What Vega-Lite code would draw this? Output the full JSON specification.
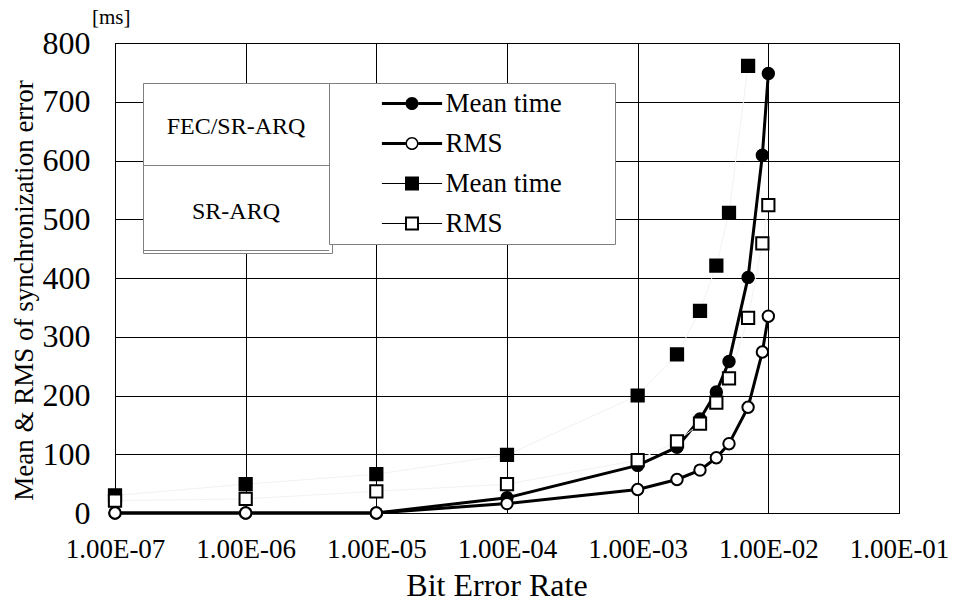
{
  "$schema": "https://vega.github.io/schema/vega-lite/v6.json",
  "width": 784,
  "height": 470,
  "autosize": {"type": "none"},
  "padding": {"left": 115, "top": 43, "right": 57, "bottom": 90},
  "background": "white",
  "config": {
    "view": {"stroke": "black", "strokeWidth": 1},
    "font": "Liberation Serif, Times New Roman, Tinos, DejaVu Serif, serif",
    "axis": {
      "gridColor": "black", "gridOpacity": 1, "gridWidth": 1,
      "domainColor": "black", "ticks": false, "tickSize": 0,
      "labelColor": "black", "titleColor": "black",
      "labelFont": "Liberation Serif, Times New Roman, Tinos, DejaVu Serif, serif",
      "titleFont": "Liberation Serif, Times New Roman, Tinos, DejaVu Serif, serif",
      "titleFontWeight": "normal", "labelFlush": false, "labelOverlap": false
    },
    "legend": {"labelFont": "Liberation Serif, Times New Roman, Tinos, DejaVu Serif, serif", "labelColor": "black"},
    "title": {"font": "Liberation Serif, Times New Roman, Tinos, DejaVu Serif, serif"}
  },
  "title": {
    "text": "[ms]", "anchor": "start", "frame": "group", "dx": -23, "dy": 22, "offset": 4,
    "fontSize": 21, "fontWeight": "normal",
    "baseline": "alphabetic", "color": "black"
  },
  "resolve": {"scale": {"shape": "independent"}},
  "data": {
    "values": [
      {"ber": 1e-7, "value": 0, "series": "FEC/SR-ARQ Mean time", "protocol": "FEC/SR-ARQ"},
      {"ber": 1e-6, "value": 0, "series": "FEC/SR-ARQ Mean time", "protocol": "FEC/SR-ARQ"},
      {"ber": 1e-5, "value": 0, "series": "FEC/SR-ARQ Mean time", "protocol": "FEC/SR-ARQ"},
      {"ber": 1e-4, "value": 26, "series": "FEC/SR-ARQ Mean time", "protocol": "FEC/SR-ARQ"},
      {"ber": 1e-3, "value": 81, "series": "FEC/SR-ARQ Mean time", "protocol": "FEC/SR-ARQ"},
      {"ber": 2e-3, "value": 112, "series": "FEC/SR-ARQ Mean time", "protocol": "FEC/SR-ARQ"},
      {"ber": 3e-3, "value": 160, "series": "FEC/SR-ARQ Mean time", "protocol": "FEC/SR-ARQ"},
      {"ber": 4e-3, "value": 206, "series": "FEC/SR-ARQ Mean time", "protocol": "FEC/SR-ARQ"},
      {"ber": 5e-3, "value": 258, "series": "FEC/SR-ARQ Mean time", "protocol": "FEC/SR-ARQ"},
      {"ber": 7e-3, "value": 401, "series": "FEC/SR-ARQ Mean time", "protocol": "FEC/SR-ARQ"},
      {"ber": 9e-3, "value": 609, "series": "FEC/SR-ARQ Mean time", "protocol": "FEC/SR-ARQ"},
      {"ber": 1e-2, "value": 748, "series": "FEC/SR-ARQ Mean time", "protocol": "FEC/SR-ARQ"},
      {"ber": 1e-7, "value": 0, "series": "FEC/SR-ARQ RMS", "protocol": "FEC/SR-ARQ"},
      {"ber": 1e-6, "value": 0, "series": "FEC/SR-ARQ RMS", "protocol": "FEC/SR-ARQ"},
      {"ber": 1e-5, "value": 0, "series": "FEC/SR-ARQ RMS", "protocol": "FEC/SR-ARQ"},
      {"ber": 1e-4, "value": 16, "series": "FEC/SR-ARQ RMS", "protocol": "FEC/SR-ARQ"},
      {"ber": 1e-3, "value": 40, "series": "FEC/SR-ARQ RMS", "protocol": "FEC/SR-ARQ"},
      {"ber": 2e-3, "value": 57, "series": "FEC/SR-ARQ RMS", "protocol": "FEC/SR-ARQ"},
      {"ber": 3e-3, "value": 73, "series": "FEC/SR-ARQ RMS", "protocol": "FEC/SR-ARQ"},
      {"ber": 4e-3, "value": 94, "series": "FEC/SR-ARQ RMS", "protocol": "FEC/SR-ARQ"},
      {"ber": 5e-3, "value": 118, "series": "FEC/SR-ARQ RMS", "protocol": "FEC/SR-ARQ"},
      {"ber": 7e-3, "value": 180, "series": "FEC/SR-ARQ RMS", "protocol": "FEC/SR-ARQ"},
      {"ber": 9e-3, "value": 274, "series": "FEC/SR-ARQ RMS", "protocol": "FEC/SR-ARQ"},
      {"ber": 1e-2, "value": 335, "series": "FEC/SR-ARQ RMS", "protocol": "FEC/SR-ARQ"},
      {"ber": 1e-7, "value": 30, "series": "SR-ARQ Mean time", "protocol": "SR-ARQ"},
      {"ber": 1e-6, "value": 49, "series": "SR-ARQ Mean time", "protocol": "SR-ARQ"},
      {"ber": 1e-5, "value": 66, "series": "SR-ARQ Mean time", "protocol": "SR-ARQ"},
      {"ber": 1e-4, "value": 99, "series": "SR-ARQ Mean time", "protocol": "SR-ARQ"},
      {"ber": 1e-3, "value": 200, "series": "SR-ARQ Mean time", "protocol": "SR-ARQ"},
      {"ber": 2e-3, "value": 270, "series": "SR-ARQ Mean time", "protocol": "SR-ARQ"},
      {"ber": 3e-3, "value": 344, "series": "SR-ARQ Mean time", "protocol": "SR-ARQ"},
      {"ber": 4e-3, "value": 421, "series": "SR-ARQ Mean time", "protocol": "SR-ARQ"},
      {"ber": 5e-3, "value": 511, "series": "SR-ARQ Mean time", "protocol": "SR-ARQ"},
      {"ber": 7e-3, "value": 761, "series": "SR-ARQ Mean time", "protocol": "SR-ARQ"},
      {"ber": 1e-7, "value": 21, "series": "SR-ARQ RMS", "protocol": "SR-ARQ"},
      {"ber": 1e-6, "value": 24, "series": "SR-ARQ RMS", "protocol": "SR-ARQ"},
      {"ber": 1e-5, "value": 37, "series": "SR-ARQ RMS", "protocol": "SR-ARQ"},
      {"ber": 1e-4, "value": 49, "series": "SR-ARQ RMS", "protocol": "SR-ARQ"},
      {"ber": 1e-3, "value": 90, "series": "SR-ARQ RMS", "protocol": "SR-ARQ"},
      {"ber": 2e-3, "value": 122, "series": "SR-ARQ RMS", "protocol": "SR-ARQ"},
      {"ber": 3e-3, "value": 152, "series": "SR-ARQ RMS", "protocol": "SR-ARQ"},
      {"ber": 4e-3, "value": 188, "series": "SR-ARQ RMS", "protocol": "SR-ARQ"},
      {"ber": 5e-3, "value": 229, "series": "SR-ARQ RMS", "protocol": "SR-ARQ"},
      {"ber": 7e-3, "value": 332, "series": "SR-ARQ RMS", "protocol": "SR-ARQ"},
      {"ber": 9e-3, "value": 459, "series": "SR-ARQ RMS", "protocol": "SR-ARQ"},
      {"ber": 1e-2, "value": 524, "series": "SR-ARQ RMS", "protocol": "SR-ARQ"}
    ]
  },
  "encoding": {
    "x": {
      "field": "ber", "type": "quantitative",
      "scale": {"type": "log", "domain": [1e-7, 0.1], "nice": false},
      "axis": {
        "values": [1e-7, 1e-6, 1e-5, 1e-4, 1e-3, 1e-2, 1e-1],
        "labelExpr": "'1.00E-0' + abs(round(log(datum.value) / LN10))",
        "labelFontSize": 27, "labelBaseline": "alphabetic", "labelPadding": 44,
        "title": "Bit Error Rate", "titleFontSize": 32,
        "titleX": 381.5, "titleY": 82, "titleBaseline": "alphabetic", "titleAlign": "center"
      }
    },
    "y": {
      "field": "value", "type": "quantitative",
      "scale": {"domain": [0, 800], "nice": false},
      "axis": {
        "values": [0, 100, 200, 300, 400, 500, 600, 700, 800],
        "labelFontSize": 32, "labelPadding": 25,
        "title": "Mean & RMS of synchronization error", "titleFontSize": 27,
        "titleX": -83, "titleY": 247, "titleAngle": -90, "titleAlign": "center",
        "titleBaseline": "alphabetic"
      }
    }
  },
  "layer": [
    {
      "mark": {"type": "line"},
      "encoding": {
        "detail": {"field": "series", "type": "nominal"},
        "color": {
          "field": "protocol", "type": "nominal",
          "scale": {"domain": ["SR-ARQ", "FEC/SR-ARQ"], "range": ["#f2f2f2", "black"]},
          "legend": null
        },
        "strokeWidth": {
          "field": "protocol", "type": "ordinal",
          "scale": {"domain": ["SR-ARQ", "FEC/SR-ARQ"], "range": [1, 3]},
          "legend": null
        },
        "opacity": {
          "field": "protocol", "type": "ordinal",
          "scale": {"domain": ["FEC/SR-ARQ", "SR-ARQ"], "range": [1, 1]},
          "legend": {
            "orient": "none", "legendX": 28, "legendY": 40, "title": null,
            "padding": 0, "rowPadding": -7.5,
            "symbolSize": 7569, "symbolType": "M-1,0.885H3.276M0,-1.011L0,-1.011",
            "symbolStrokeColor": "#808080", "symbolStrokeWidth": 1, "symbolFillColor": "transparent",
            "symbolOffset": -0.5, "labelAlign": "center", "labelOffset": 5.5,
            "labelFontSize": 24, "labelLimit": 300,
            "strokeColor": "#808080", "fillColor": "white"
          }
        }
      }
    },
    {
      "mark": {"type": "point", "filled": true, "stroke": "black", "strokeWidth": 2, "opacity": 1},
      "encoding": {
        "shape": {
          "field": "series", "type": "nominal",
          "scale": {"domain": ["FEC/SR-ARQ RMS", "FEC/SR-ARQ Mean time", "SR-ARQ RMS", "SR-ARQ Mean time"], "range": ["circle", "circle", "square", "square"]},
          "legend": null
        },
        "fill": {
          "field": "series", "type": "nominal",
          "scale": {"domain": ["FEC/SR-ARQ Mean time", "SR-ARQ Mean time", "FEC/SR-ARQ RMS", "SR-ARQ RMS"], "range": ["black", "black", "white", "white"]},
          "legend": null
        },
        "size": {
          "field": "series", "type": "nominal",
          "scale": {"type": "ordinal", "domain": ["SR-ARQ Mean time", "SR-ARQ RMS", "FEC/SR-ARQ Mean time", "FEC/SR-ARQ RMS"], "range": [150, 150, 130, 130]},
          "legend": null
        }
      }
    },
    {
      "mark": {"type": "point", "filled": true, "color": "black", "strokeWidth": 0, "opacity": 0, "size": 196},
      "encoding": {
        "shape": {
          "field": "series", "type": "nominal",
          "scale": {
            "domain": ["FEC/SR-ARQ Mean time", "FEC/SR-ARQ RMS", "SR-ARQ Mean time", "SR-ARQ RMS"],
            "range": [
              "M-4.3,-0.21H-0.93V0.21H-4.3Z M0.93,-0.21H4.3V0.21H0.93Z M0.93,0A0.93,0.93,0,1,1,-0.93,0A0.93,0.93,0,1,1,0.93,0Z M28,0L28,0",
              "M-4.3,-0.21H-0.93V0.21H-4.3Z M0.93,-0.21H4.3V0.21H0.93Z M0.93,0A0.93,0.93,0,1,1,-0.93,0A0.93,0.93,0,1,1,0.93,0Z M0.71,0A0.71,0.71,0,1,0,-0.71,0A0.71,0.71,0,1,0,0.71,0Z M28,0L28,0",
              "M-4.3,-0.08H-1V0.08H-4.3Z M1,-0.08H4.3V0.08H1Z M-1,-1H1V1H-1Z M28,0L28,0",
              "M-4.3,-0.08H-1V0.08H-4.3Z M1,-0.08H4.3V0.08H1Z M-1,-1H1V1H-1Z M-0.72,-0.72V0.72H0.72V-0.72Z M28,0L28,0"
            ]
          },
          "legend": {
            "orient": "none", "legendX": 214, "legendY": 40, "title": null,
            "padding": 7, "rowPadding": 12, "symbolOffset": 62.5, "labelOffset": 20,
            "labelFontSize": 27, "labelLimit": 400,
            "labelExpr": "indexof(datum.value, 'Mean') >= 0 ? 'Mean time' : 'RMS'",
            "strokeColor": "#808080", "fillColor": "white",
            "symbolSize": 196, "symbolStrokeWidth": 0, "symbolFillColor": "black",
            "symbolOpacity": 1
          }
        }
      }
    }
  ]
}
